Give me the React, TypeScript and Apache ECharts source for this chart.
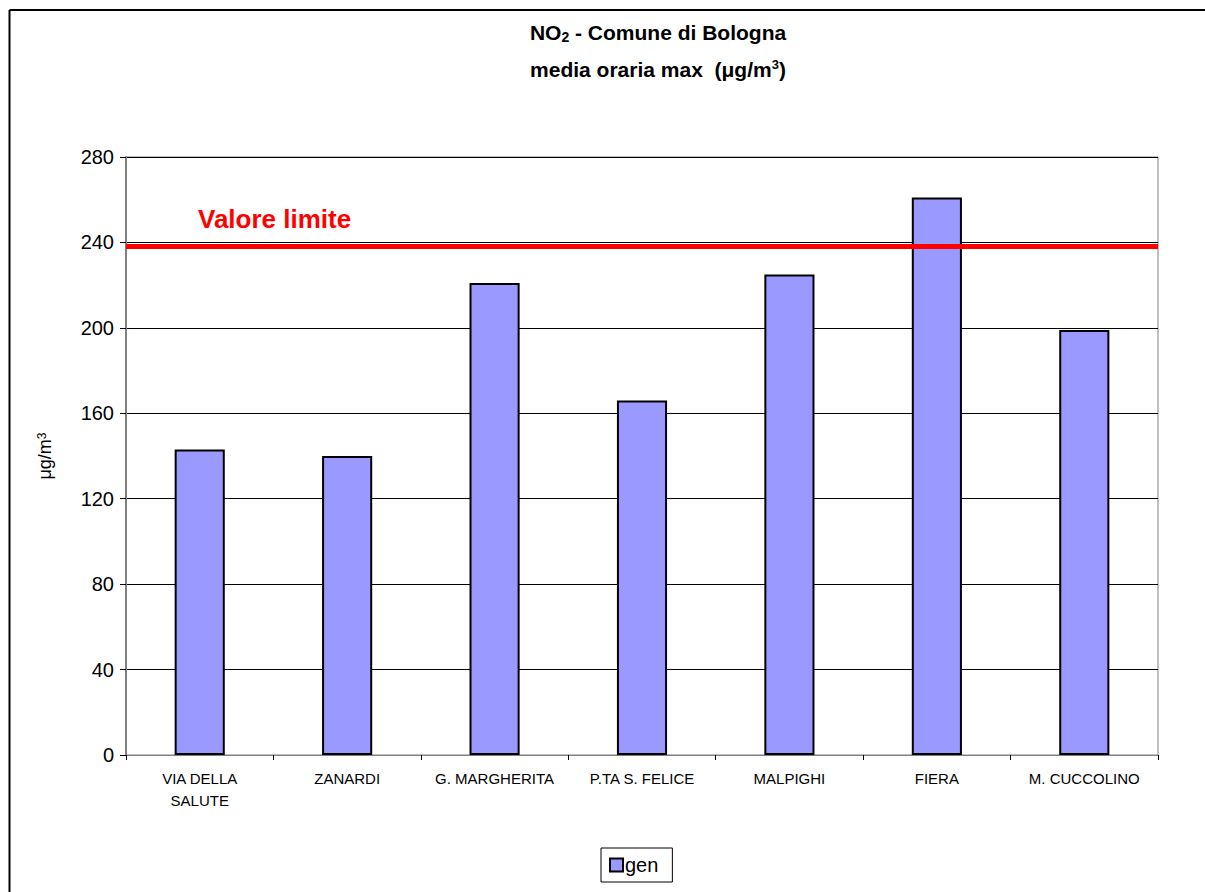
import React, { useEffect, useRef } from "react";
import * as echarts from "echarts";

const categories = [
  "VIA DELLA\nSALUTE",
  "ZANARDI",
  "G. MARGHERITA",
  "P.TA S. FELICE",
  "MALPIGHI",
  "FIERA",
  "M. CUCCOLINO",
];
const seriesName = "gen";
const values = [143, 140, 221, 166, 225, 261, 199];
const limitValue = 238;
const limitLabel = "Valore limite";
const yTicks = { min: 0, max: 280, interval: 40 };

const FONT = "'Liberation Sans', Arial, Helvetica, sans-serif";

export default function App() {
  const ref = useRef<HTMLDivElement>(null);
  useEffect(() => {
    if (!ref.current) return;
    document.documentElement.style.overflow = "hidden";
    document.body.style.overflow = "hidden";
    document.body.style.margin = "0";
    const chart = echarts.init(ref.current, undefined, { renderer: "svg" });
    chart.setOption({
      animation: false,
      backgroundColor: "#ffffff",
      textStyle: { fontFamily: FONT },
      grid: {
        left: 126,
        top: 157,
        width: 1032,
        height: 598,
        show: true,
        borderColor: "#808080",
        borderWidth: 1,
        containLabel: false,
      },
      legend: {
        left: 601,
        top: 848,
        orient: "horizontal",
        borderColor: "#000",
        borderWidth: 1,
        padding: [7, 14, 7, 8],
        itemWidth: 13,
        itemHeight: 13,
        itemGap: 4,
        textStyle: { fontFamily: FONT, fontSize: 20, color: "#000", padding: [0, 0, 0, -3] },
        data: [
          {
            name: seriesName,
            icon: "rect",
            itemStyle: { color: "#9999FF", borderColor: "#000", borderWidth: 2 },
          },
        ],
      },
      xAxis: {
        type: "category",
        data: categories,
        axisLine: { lineStyle: { color: "#808080", width: 1 } },
        axisTick: { show: true, length: 5, lineStyle: { color: "#000" } },
        axisLabel: {
          fontFamily: FONT,
          fontSize: 15,
          color: "#000",
          margin: 12,
          lineHeight: 22,
          interval: 0,
        },
      },
      yAxis: {
        type: "value",
        min: yTicks.min,
        max: yTicks.max,
        interval: yTicks.interval,
        name: "{a|μg/m}{s|3}",
        nameLocation: "middle",
        nameGap: 72,
        nameRotate: 90,
        nameTextStyle: {
          fontSize: 18,
          rich: {
            a: { fontFamily: FONT, fontSize: 18, color: "#000", verticalAlign: "bottom" },
            s: { fontFamily: FONT, fontSize: 12, color: "#000", verticalAlign: "top" },
          },
        },
        axisLine: { show: true, lineStyle: { color: "#808080", width: 2 } },
        axisTick: { show: true, length: 6, lineStyle: { color: "#000" } },
        axisLabel: { fontFamily: FONT, fontSize: 20, color: "#000", margin: 12 },
        splitLine: { show: true, lineStyle: { color: "#000", width: 1 } },
      },
      series: [
        {
          name: seriesName,
          type: "bar",
          data: values,
          barWidth: "34%",
          itemStyle: { color: "#9999FF", borderColor: "#000", borderWidth: 2 },
          markLine: {
            silent: true,
            symbol: "none",
            label: { show: false },
            lineStyle: { color: "#ff0000", width: 5, type: "solid" },
            data: [{ yAxis: limitValue }],
          },
        },
      ],
      graphic: [
        {
          type: "line",
          shape: { x1: 9.5, y1: 10, x2: 9.5, y2: 1000 },
          style: { stroke: "#000", lineWidth: 2 },
          z: 100,
          silent: true,
        },
        {
          type: "line",
          shape: { x1: 9.5, y1: 10, x2: 1205, y2: 10 },
          style: { stroke: "#000", lineWidth: 2 },
          z: 100,
          silent: true,
        },
        {
          type: "text",
          x: 658,
          y: 32,
          style: {
            text: "{b|NO}{sub|2}{b| - Comune di Bologna}",
            textAlign: "center",
            textVerticalAlign: "middle",
            rich: {
              b: { fontFamily: FONT, fontSize: 21, fontWeight: "bold", fill: "#000", verticalAlign: "middle" },
              sub: { fontFamily: FONT, fontSize: 14, fontWeight: "bold", fill: "#000", verticalAlign: "bottom", padding: [9, 0, 0, 0] },
            },
          },
        },
        {
          type: "text",
          x: 658,
          y: 69,
          style: {
            text: "{b|media oraria max  (μg/m}{sup|3}{b|)}",
            textAlign: "center",
            textVerticalAlign: "middle",
            rich: {
              b: { fontFamily: FONT, fontSize: 21, fontWeight: "bold", fill: "#000", verticalAlign: "middle" },
              sup: { fontFamily: FONT, fontSize: 13, fontWeight: "bold", fill: "#000", verticalAlign: "top", padding: [0, 0, 9, 0] },
            },
          },
        },
        {
          type: "text",
          x: 198,
          y: 219,
          style: {
            text: limitLabel,
            fontFamily: FONT,
            fontSize: 26,
            fontWeight: "bold",
            fill: "#ff0000",
            textVerticalAlign: "middle",
          },
        },
      ],
    });
    return () => chart.dispose();
  }, []);
  return (
    <div
      ref={ref}
      style={{ position: "absolute", left: 0, top: 0, width: 1205, height: 892 }}
    />
  );
}
